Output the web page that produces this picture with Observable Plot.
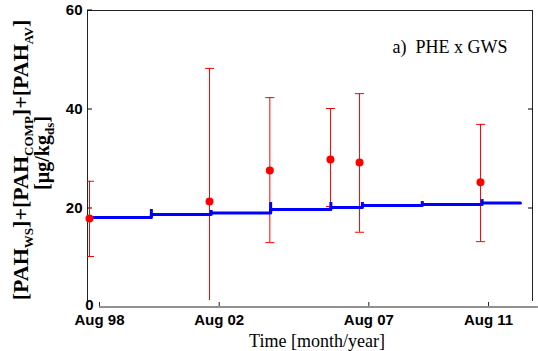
<!DOCTYPE html>
<html><head><meta charset="utf-8">
<script src="https://cdn.jsdelivr.net/npm/d3@7"></script>
<script src="https://cdn.jsdelivr.net/npm/@observablehq/plot@0.6"></script>
<style>body{margin:0;background:#fff;} svg{display:block}</style>
</head><body><div id="chart"></div>
<script>
// ---- data ----
const title = "a)\u00a0\u00a0PHE x GWS";
const xTitle = "Time [month/year]";
const tickDates = ["1998-08-01", "2002-08-01", "2007-08-01", "2011-08-01"];
const tickLabels = ["Aug 98", "Aug 02", "Aug 07", "Aug 11"];
const yTicks = [20, 40, 60];
const yZeroLabel = [0];
const xAxisExtent = ["1998-08-01", "2013-04-01"];

// measured PAH (red points with error bars)
const pointDates = ["1998-04-01", "2002-04-05", "2004-04-10", "2006-04-20", "2007-04-10", "2011-04-25"];
const pointValues = [17.9, 21.3, 27.6, 29.8, 29.2, 25.2];
const errLow = [10.2, -2, 13.0, 20.3, 15.1, 13.2];
const errHigh = [25.4, 48.2, 42.3, 40.1, 43.1, 36.9];

// model (blue step line)
const stepDates = ["1998-04-01", "2000-04-25", "2002-04-25", "2004-04-20", "2006-04-25", "2007-05-15", "2009-05-15", "2011-05-15"];
const stepLevels = [18.1, 18.7, 19.0, 19.7, 20.1, 20.5, 20.7, 21.0];
const stepBumps = [null, 19.7, 19.5, 21.1, 21.1, 21.1, 21.3, 21.7];
const lineEnd = "2012-08-25";

// ---- tables ----
const points = pointDates.map((d, i) => ({date: new Date(d), v: pointValues[i], lo: errLow[i], hi: errHigh[i]}));
const line = stepDates.map((d, i) => ({date: new Date(d), v: stepLevels[i]}));
line.push({date: new Date(lineEnd), v: stepLevels[stepLevels.length - 1]});
const bumps = stepDates.map((d, i) => ({date: new Date(d), from: i > 0 ? stepLevels[i - 1] : null, to: stepBumps[i]}))
  .filter(d => d.to != null);
const ticks = tickDates.map(d => new Date(d));
const labelOf = new Map(ticks.map((d, i) => [+d, tickLabels[i]]));

const capSymbol = {draw(ctx, size) { const h = Math.sqrt(size / Math.PI); ctx.moveTo(-h, 0); ctx.lineTo(h, 0); }};

const sans = "'Liberation Sans', Arial, sans-serif";
const serif = "'Liberation Serif', 'Times New Roman', serif";

const svg = Plot.plot({
  width: 538, height: 351,
  marginLeft: 87, marginRight: 6, marginTop: 10, marginBottom: 51,
  style: {fontFamily: sans, fontSize: "15px", fontWeight: "bold", background: "#fff", overflow: "visible", color: "#000"},
  x: {type: "utc", domain: [ticks[0], ticks[ticks.length - 1]], range: [99, 488]},
  y: {domain: [0, 60], range: [306.5, 9.5]},
  marks: [
    Plot.frame({anchor: "left", stroke: "#222"}),
    Plot.frame({anchor: "top", stroke: "#222"}),
    Plot.frame({anchor: "right", stroke: "#222"}),
    Plot.ruleY([0], {x1: () => new Date(xAxisExtent[0]), x2: () => new Date(xAxisExtent[1]), stroke: "#222"}),
    Plot.axisX(ticks, {anchor: "bottom", tickSize: -4, tickPadding: 12, dy: 6, tickFormat: d => labelOf.get(+d), fontSize: 15, fontWeight: "bold", letterSpacing: "-0.3px", stroke: "#222"}),
    Plot.axisY(yTicks, {anchor: "left", tickSize: -5, tickPadding: 10, fontSize: 15, fontWeight: "bold"}),
    Plot.axisY([20, 40], {anchor: "right", tickSize: -5, text: null}),
    Plot.text(yZeroLabel, {y: d => d, frameAnchor: "left", text: d => String(d), dx: 2, dy: -2, textAnchor: "middle", fontSize: 15, fontWeight: "bold"}),
    // error bars
    Plot.ruleX(points, {x: "date", y1: "lo", y2: "hi", stroke: "#ff0000", strokeWidth: 1, clip: "frame"}),
    Plot.dot(points, {x: "date", y: "hi", symbol: capSymbol, r: 4.5, stroke: "#ff0000", strokeWidth: 1, fill: "none", clip: "frame"}),
    Plot.dot(points, {x: "date", y: "lo", symbol: capSymbol, r: 4.5, stroke: "#ff0000", strokeWidth: 1, fill: "none", clip: "frame"}),
    // model line
    Plot.line(line, {x: "date", y: "v", curve: "step-after", stroke: "#0000ff", strokeWidth: 3}),
    Plot.ruleX(bumps, {x: "date", y1: "from", y2: "to", stroke: "#0000ff", strokeWidth: 3}),
    // measured points
    Plot.dot(points, {x: "date", y: "v", r: 4, fill: "#ff0000", stroke: "none"}),
    // texts
    Plot.text([title], {frameAnchor: "top-right", dx: -25, dy: 42, textAnchor: "end", lineAnchor: "bottom", fontFamily: serif, fontSize: 18, fontWeight: "normal"}),
    Plot.text([xTitle], {frameAnchor: "bottom", dx: 7, dy: 46, lineAnchor: "bottom", fontFamily: serif, fontSize: 18, fontWeight: "normal"})
  ]
});
document.getElementById("chart").append(svg);

// rotated y-axis label with subscripts
const ylab1 = [["[PAH", false], ["WS", true], ["]+[PAH", false], ["COMP", true], ["]+[PAH", false], ["AV", true], ["]", false]];
const ylab2 = [["[\u00b5g/kg", false], ["ds", true], ["]", false]];
function addLabel(parts, tx, ty, size, subSize, shift) {
  const t = d3.select(svg).append("text")
    .attr("transform", `translate(${tx},${ty}) rotate(-90)`)
    .attr("text-anchor", "middle")
    .attr("font-family", serif).attr("font-weight", "bold").attr("font-size", size).attr("fill", "#000");
  let cur = 0;
  for (const [s, sub] of parts) {
    const want = sub ? shift : 0;
    t.append("tspan").attr("dy", want - cur).attr("font-size", sub ? subSize : size).text(s);
    cur = want;
  }
}
addLabel(ylab1, 28, 160, 22, 13, 5);
addLabel(ylab2, 49, 153, 20, 13, 5);
</script>
</body></html>
